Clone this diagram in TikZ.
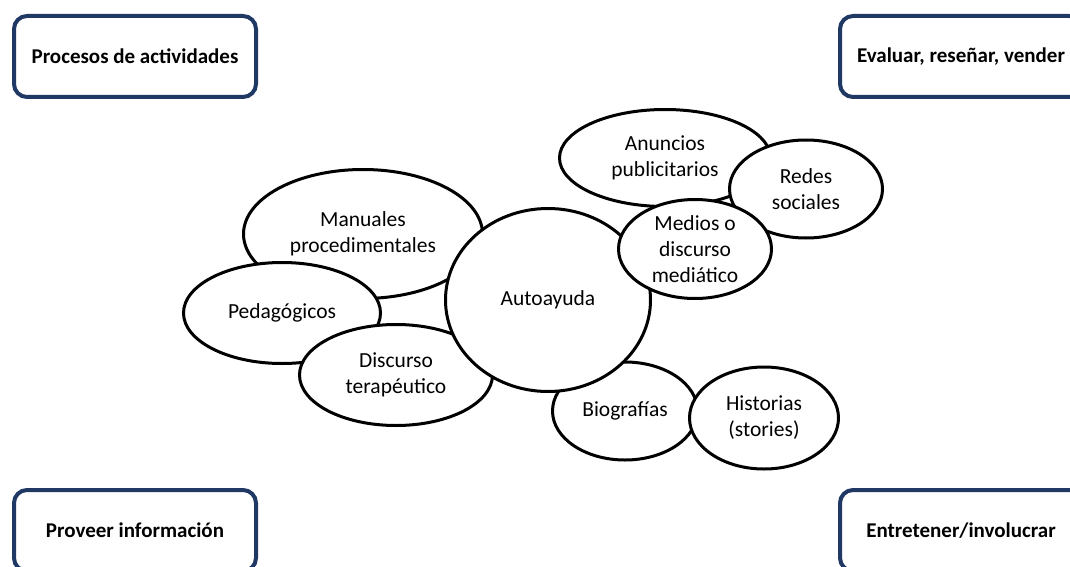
\documentclass[tikz,border=0pt]{standalone}
\usepackage{fontspec}
\setmainfont{Carlito}
\usetikzlibrary{shapes.geometric}
\definecolor{navy}{RGB}{31,56,100}
\tikzset{
  corner/.style={draw=navy, line width=4pt, rounded corners=13pt, fill=white,
    minimum width=242pt, minimum height=81pt, inner sep=0pt,
    font=\fontsize{21}{25}\selectfont\bfseries},
  bubble/.style={draw=black, line width=3pt, fill=white, ellipse, inner sep=0pt,
    align=center, font=\fontsize{21.5}{26}\selectfont},
}
\begin{document}
\begin{tikzpicture}[x=1pt,y=-1pt]
\useasboundingbox (0,0) rectangle (1070,567);
\clip (0,0) rectangle (1070,567);
\fill[white] (0,0) rectangle (1070,567);
% corner boxes
\node[corner] (tl) at (135,56.5) {Procesos de actividades};
\node[corner] (tr) at (961,56.5) {Evaluar, reseñar, vender};
\node[corner] (bl) at (135,530.5) {Proveer información};
\node[corner] (br) at (961,530.5) {Entretener/involucrar};
% bubbles, back to front
\node[bubble, minimum width=239pt, minimum height=129pt] (man) at (363,234) {Manuales\\procedimentales};
\node[bubble, minimum width=197pt, minimum height=101pt] (ped) at (282,313) {Pedagógicos};
\node[bubble, minimum width=193pt, minimum height=101pt] (ter) at (396,375) {Discurso\\terapéutico};
\node[bubble, minimum width=211pt, minimum height=97pt] (anu) at (665,158) {Anuncios\\publicitarios};
\node[bubble, minimum width=153pt, minimum height=98pt] (red) at (806,189) {Redes\\sociales};
\node[bubble, minimum width=145pt, minimum height=98pt] (bio) at (625,411) {Biografías};
\node[bubble, minimum width=149pt, minimum height=102pt] (his) at (764,418) {Historias\\(stories)};
\node[bubble, minimum width=205pt, minimum height=183pt] (aut) at (548,300) {Autoayuda};
\node[bubble, minimum width=153pt, minimum height=99pt] (med) at (695,249) {Medios o\\discurso\\mediático};
\end{tikzpicture}
\end{document}
